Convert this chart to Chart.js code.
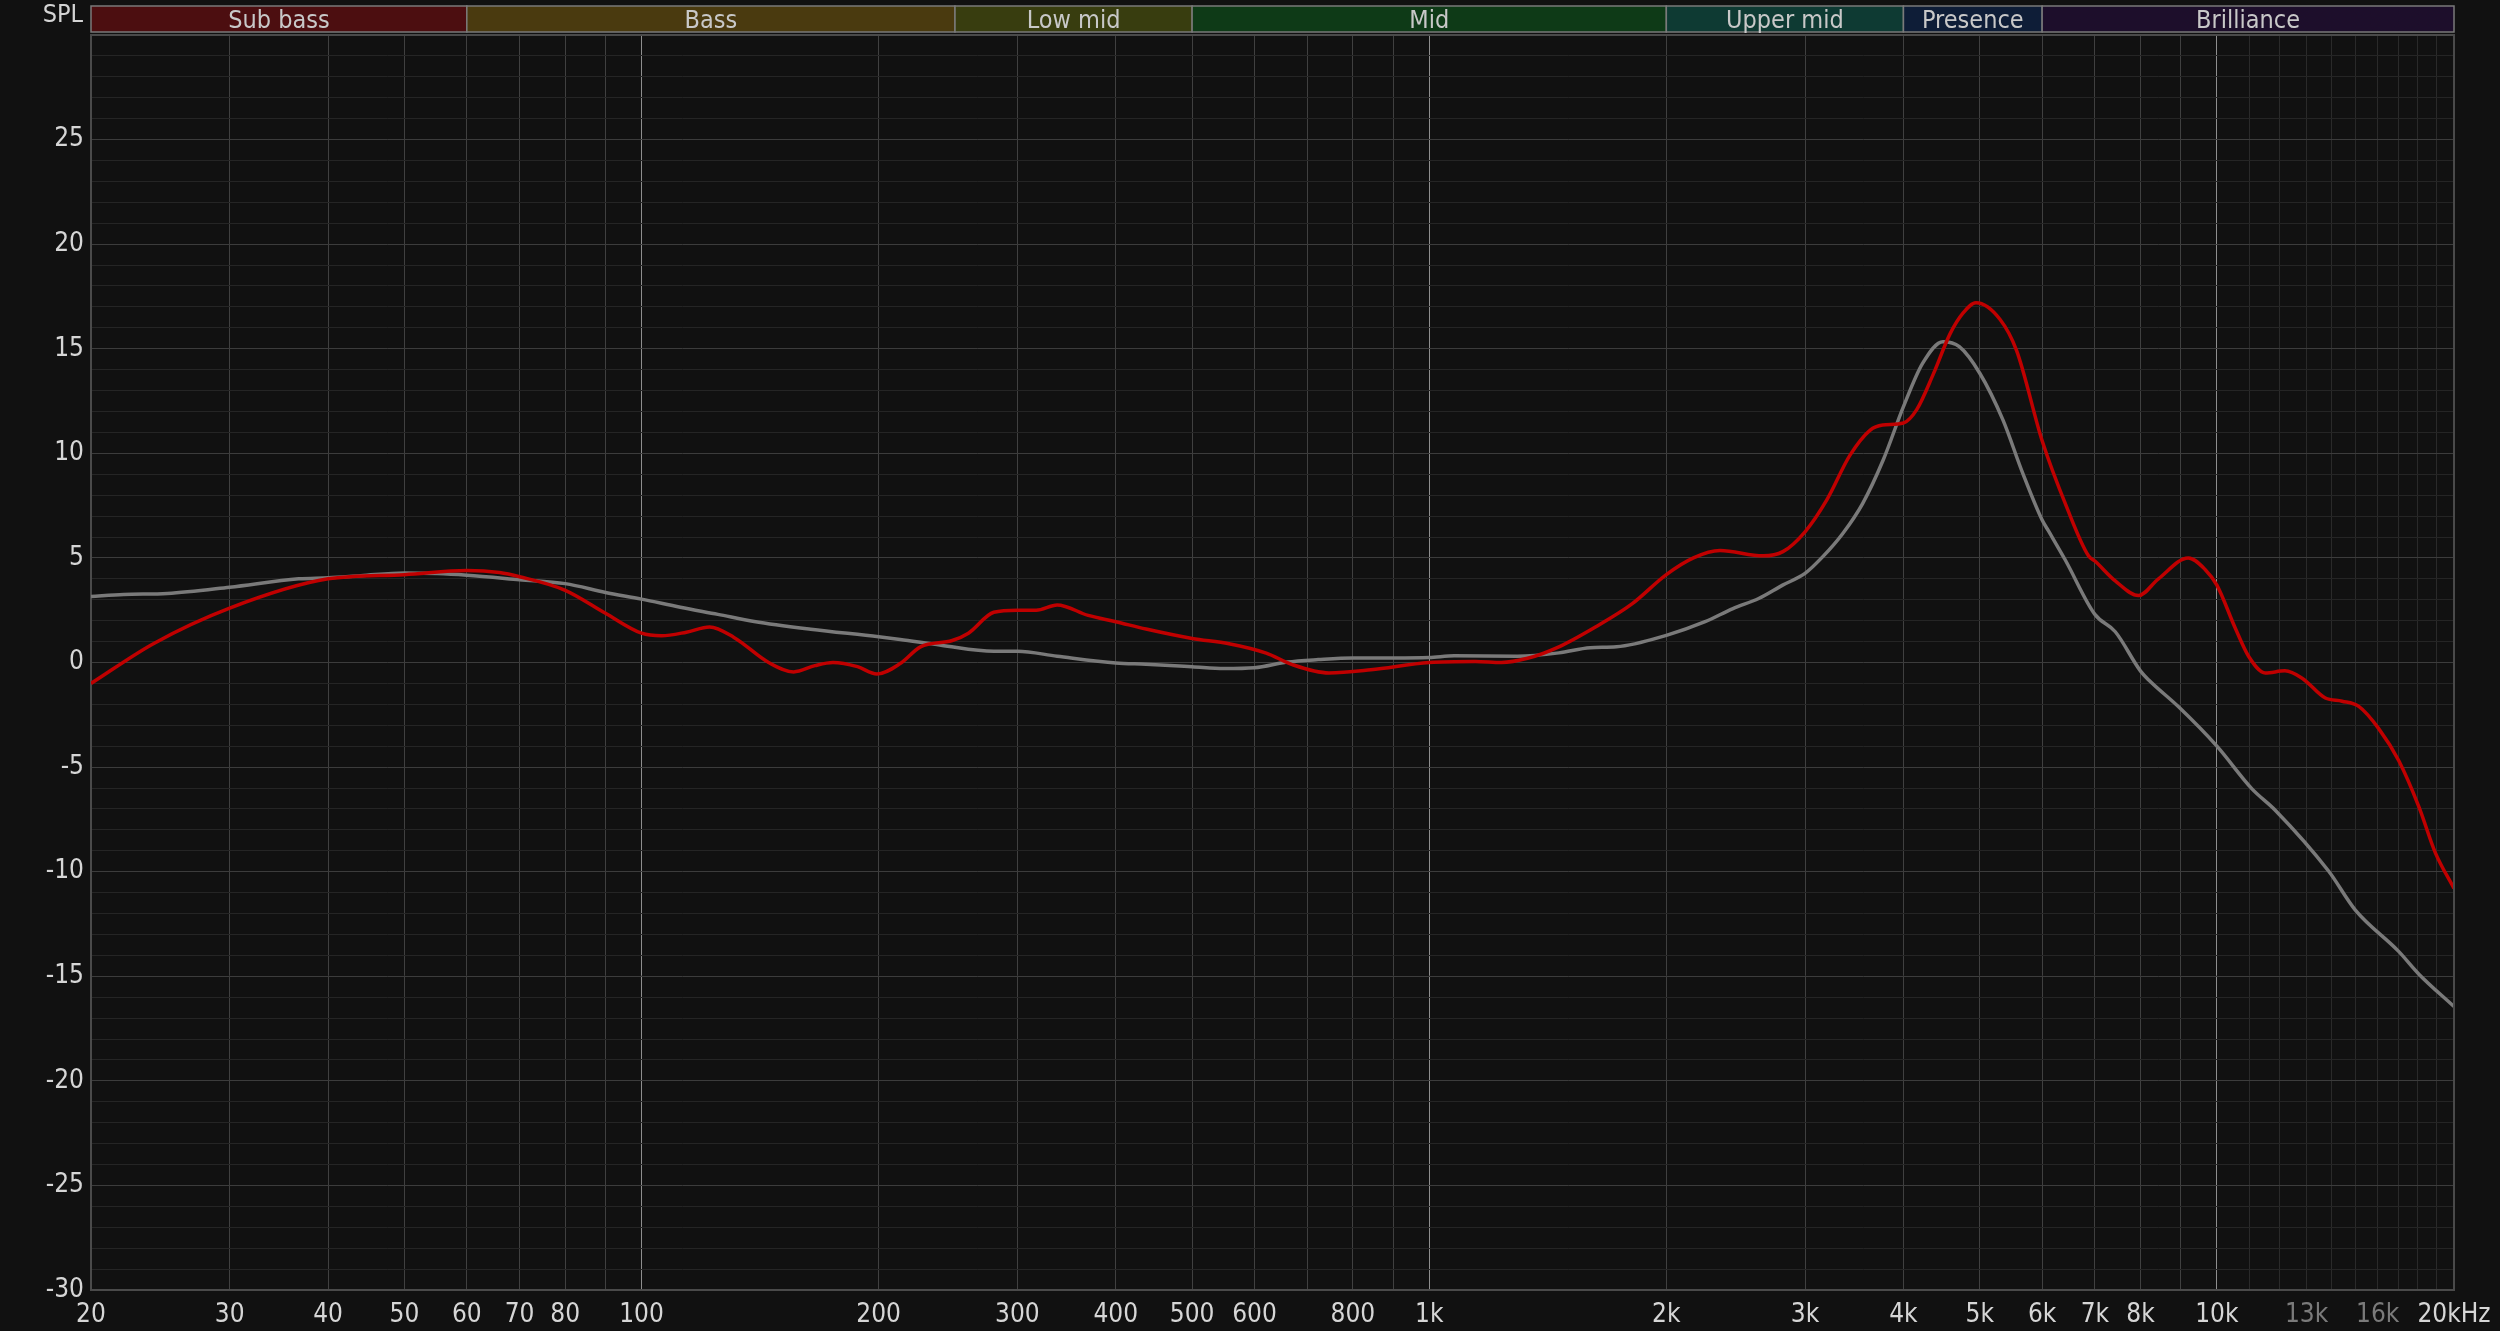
<!DOCTYPE html>
<html>
<head>
<meta charset="utf-8">
<script src="https://cdn.jsdelivr.net/npm/chart.js@4.4.1/dist/chart.umd.min.js"></script>
<style>
  html, body { margin: 0; padding: 0; background: #111111; }
  #wrap { width: 2500px; height: 1331px; }
</style>
</head>
<body>
<div id="wrap"><canvas id="fr" width="2500" height="1331"></canvas></div>
<script>
// measured response (red)
const redFreq = [20, 24, 30, 40, 50, 60, 66, 70, 80, 90, 100, 106, 114, 122, 131, 145, 156, 166, 175, 188, 199,
  213, 226, 248, 260, 280, 300, 317, 337, 369, 400, 437, 500, 557, 621, 670, 746, 843, 1000, 1144, 1235, 1333,
  1461, 1626, 1809, 2000, 2165, 2340, 2654, 2812, 3000, 3200, 3420, 3627, 3765, 4000, 4160, 4366, 4582, 4760,
  4945, 5306, 5570, 6000, 6443, 6870, 7000, 7430, 7950, 8430, 9200, 9660, 10000, 10550, 10970, 11520, 12200,
  12830, 13730, 14420, 15140, 16040, 17020, 18050, 18940, 20000];
const redSpl = [-1.0, 0.9, 2.6, 4.0, 4.2, 4.4, 4.3, 4.1, 3.45, 2.35, 1.4, 1.28, 1.45, 1.7, 1.2, 0.0, -0.45, -0.15, 0.0, -0.2, -0.55,
  -0.05, 0.75, 1.05, 1.4, 2.4, 2.5, 2.5, 2.75, 2.25, 1.95, 1.6, 1.15, 0.9, 0.45, -0.1, -0.5, -0.35, 0.0, 0.05, 0.0, 0.2,
  0.75, 1.7, 2.8, 4.2, 5.0, 5.35, 5.1, 5.3, 6.25, 7.8, 9.9, 11.1, 11.35, 11.45, 12.1, 13.8, 15.7, 16.7,
  17.2, 16.4, 14.9, 10.6, 7.45, 5.1, 4.85, 3.9, 3.2, 4.0, 5.0, 4.45, 3.7, 1.65, 0.3, -0.5, -0.4,
  -0.75, -1.7, -1.85, -2.1, -3.15, -4.7, -6.9, -9.1, -10.8];

// reference / target (grey)
const greyFreq = [20, 22, 25, 30, 36.7, 40, 44, 50, 55, 60, 70, 80, 90, 100, 112, 125, 139, 164, 200, 213, 240,
  280, 300, 337, 400, 437, 500, 549, 600, 660, 723, 800, 900, 1000, 1076, 1293, 1461, 1601, 1729, 2000, 2240,
  2430, 2620, 2810, 3000, 3160, 3350, 3550, 3770, 4000, 4230, 4490, 4710, 5000, 5350, 5670, 6000, 6110, 6420,
  7000, 7430, 8000, 8200, 8940, 10000, 11080, 11860, 13860, 14990, 17000, 18050, 20000];
const greySpl = [3.15, 3.25, 3.3, 3.6, 4.0, 4.05, 4.15, 4.28, 4.25, 4.17, 3.96, 3.77, 3.35, 3.03, 2.64, 2.3, 1.96, 1.59, 1.23, 1.1, 0.83,
  0.54, 0.54, 0.3, -0.02, -0.08, -0.2, -0.29, -0.25, 0.02, 0.14, 0.22, 0.22, 0.24, 0.32, 0.3, 0.46, 0.71, 0.75, 1.3, 1.95,
  2.58, 3.06, 3.7, 4.26, 5.06, 6.17, 7.6, 9.68, 12.23, 14.3, 15.34, 15.1, 13.83, 11.6, 9.04, 6.81, 6.3, 4.9,
  2.3, 1.47, -0.41, -0.85, -2.12, -4.0, -6.04, -7.06, -9.97, -11.84, -13.8, -14.9, -16.45];

const xTicks = [20, 30, 40, 50, 60, 70, 80, 90, 100, 200, 300, 400, 500, 600, 700, 800, 900, 1000,
  2000, 3000, 4000, 5000, 6000, 7000, 8000, 9000, 10000, 11000, 12000, 13000, 14000, 15000, 16000,
  17000, 18000, 19000, 20000];
const xTickLabels = {20: "20", 30: "30", 40: "40", 50: "50", 60: "60", 70: "70", 80: "80", 100: "100",
  200: "200", 300: "300", 400: "400", 500: "500", 600: "600", 800: "800", 1000: "1k", 2000: "2k",
  3000: "3k", 4000: "4k", 5000: "5k", 6000: "6k", 7000: "7k", 8000: "8k", 10000: "10k",
  13000: "13k", 16000: "16k", 20000: "20kHz"};
const dimLabels = [13000, 16000];

const bandNames = ["Sub bass", "Bass", "Low mid", "Mid", "Upper mid", "Presence", "Brilliance"];
const bandEdges = [20, 60, 250, 500, 2000, 4000, 6000, 20000];
const bandColors = ["#4c0e10", "#4a3a0f", "#383d0f", "#0e3a17", "#0e3a33", "#0e1d37", "#1d0e2b"];

const FONT = "'Liberation Sans Narrow', 'DejaVu Sans Condensed', 'Roboto', sans-serif";
const FRAME = "#4a4a4a";

function pairs(xs, ys) {
  return xs.map((x, i) => ({ x: x, y: ys[i] }));
}

const backgroundPlugin = {
  id: "bg",
  beforeDraw(chart) {
    const ctx = chart.ctx;
    ctx.save();
    ctx.fillStyle = "#111111";
    ctx.fillRect(0, 0, chart.width, chart.height);
    ctx.restore();
  }
};

const bandPlugin = {
  id: "bands",
  afterDraw(chart) {
    const ctx = chart.ctx;
    const xs = chart.scales.x;
    const area = chart.chartArea;
    ctx.save();

    // top and right frame of the plot
    ctx.strokeStyle = FRAME;
    ctx.lineWidth = 2;
    ctx.beginPath();
    ctx.moveTo(area.left, area.top);
    ctx.lineTo(area.right, area.top);
    ctx.lineTo(area.right, area.bottom);
    ctx.stroke();

    // frequency bands strip
    const top = 6, bottom = 32;
    ctx.font = "25px " + FONT;
    ctx.textAlign = "center";
    ctx.textBaseline = "middle";
    for (let i = 0; i < bandNames.length; i++) {
      const x0 = xs.getPixelForValue(bandEdges[i]);
      const x1 = xs.getPixelForValue(bandEdges[i + 1]);
      ctx.fillStyle = bandColors[i];
      ctx.fillRect(x0, top, x1 - x0, bottom - top);
      ctx.strokeStyle = "#7a7a7a";
      ctx.lineWidth = 1.5;
      ctx.strokeRect(x0, top, x1 - x0, bottom - top);
      ctx.fillStyle = "#c8c8c8";
      ctx.fillText(bandNames[i], (x0 + x1) / 2, (top + bottom) / 2 + 2);
    }

    ctx.fillStyle = "#d4d4d4";
    ctx.font = "25px " + FONT;
    ctx.textAlign = "right";
    ctx.fillText("SPL", 83, 15);
    ctx.restore();
  }
};

const ctx = document.getElementById("fr").getContext("2d");
new Chart(ctx, {
  type: "line",
  data: {
    datasets: [
      {
        label: "Measured",
        data: pairs(redFreq, redSpl),
        borderColor: "#c00000",
        borderWidth: 3.5,
        pointRadius: 0,
        cubicInterpolationMode: "monotone",
        fill: false
      },
      {
        label: "Target",
        data: pairs(greyFreq, greySpl),
        borderColor: "#7a7a7a",
        borderWidth: 3.5,
        pointRadius: 0,
        cubicInterpolationMode: "monotone",
        fill: false
      }
    ]
  },
  options: {
    responsive: false,
    animation: false,
    events: [],
    layout: { padding: { left: 0, top: 35, right: 46, bottom: 0 } },
    plugins: {
      legend: { display: false },
      tooltip: { enabled: false }
    },
    scales: {
      x: {
        type: "logarithmic",
        min: 20,
        max: 20000,
        afterBuildTicks: function (scale) {
          scale.ticks = xTicks.map((v) => ({ value: v }));
        },
        afterFit: function (scale) {
          scale.height = 41;
          scale.paddingLeft = 0;
          scale.paddingRight = 0;
        },
        ticks: {
          autoSkip: false,
          maxRotation: 0,
          padding: 10,
          font: { family: FONT, size: 26 },
          color: function (c) {
            return dimLabels.includes(c.tick.value) ? "#7a7a7a" : "#d6d6d6";
          },
          callback: function (value) {
            return xTickLabels[value] || "";
          }
        },
        grid: {
          drawTicks: false,
          lineWidth: 1,
          color: function (c) {
            const v = c.tick ? c.tick.value : 0;
            if (v === 100 || v === 1000 || v === 10000) return "#8e8e8e";
            if (v > 10000) return "#2a2a2a";
            return "#404040";
          }
        },
        border: { display: true, color: FRAME, width: 2 }
      },
      y: {
        type: "linear",
        min: -30,
        max: 30,
        afterBuildTicks: function (scale) {
          const t = [];
          for (let v = -30; v <= 30; v++) t.push({ value: v });
          scale.ticks = t;
        },
        afterFit: function (scale) {
          scale.width = 91;
        },
        ticks: {
          autoSkip: false,
          padding: 7,
          font: { family: FONT, size: 26 },
          color: "#d6d6d6",
          callback: function (value) {
            return value % 5 === 0 && value !== 30 ? String(value) : "";
          }
        },
        grid: {
          drawTicks: false,
          lineWidth: 1,
          color: function (c) {
            const v = c.tick ? c.tick.value : 0;
            return v % 5 === 0 ? "#3c3c3c" : "#252525";
          }
        },
        border: { display: true, color: FRAME, width: 2 }
      }
    }
  },
  plugins: [backgroundPlugin, bandPlugin]
});
</script>
</body>
</html>
